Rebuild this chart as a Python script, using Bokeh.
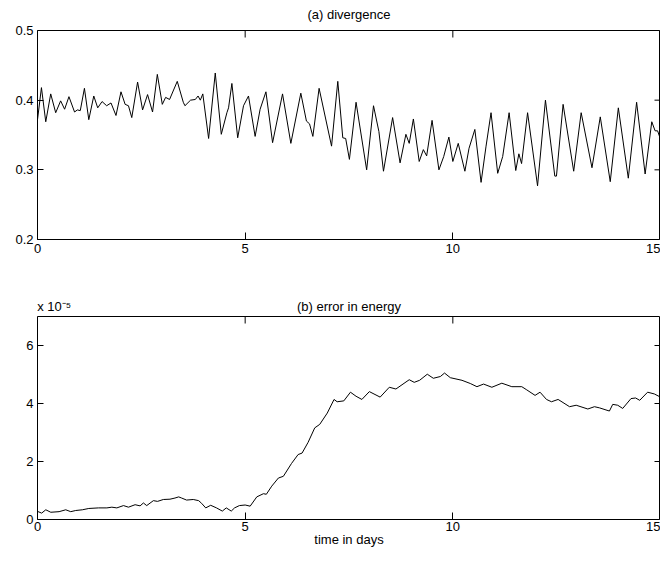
import math
from bokeh.plotting import figure
from bokeh.models import FixedTicker, LinearAxis, Range1d, Spacer
from bokeh.layouts import column, row
from bokeh.embed import file_html
from bokeh.resources import INLINE

FONT = "Liberation Sans"

# (a) divergence
div_t = [0, 0.095, 0.199, 0.318, 0.438, 0.557, 0.653, 0.757, 0.892, 0.96, 1.03, 1.13, 1.235, 1.355,
         1.45, 1.555, 1.665, 1.77, 1.89, 2.01, 2.11, 2.19, 2.27, 2.41, 2.53, 2.65, 2.77, 2.885,
         3.005, 3.085, 3.18, 3.365, 3.51, 3.55, 3.685, 3.80, 3.866, 3.92, 3.98, 4.12, 4.28, 4.425,
         4.56, 4.60, 4.68, 4.82, 4.96, 5.08, 5.24, 5.36, 5.50, 5.66, 5.90, 6.10, 6.34, 6.475, 6.55,
         6.63, 6.78, 7.08, 7.23, 7.35, 7.42, 7.51, 7.67, 7.925, 8.09, 8.22, 8.33, 8.55, 8.73, 8.87,
         8.95, 9.05, 9.19, 9.29, 9.37, 9.50, 9.665, 9.78, 9.905, 10.0, 10.13, 10.29, 10.39, 10.53,
         10.68, 10.80, 10.92, 11.08, 11.20, 11.355, 11.515, 11.59, 11.655, 11.80, 12.04, 12.23,
         12.455, 12.495, 12.655, 12.91, 13.09, 13.35, 13.55, 13.79, 13.985, 14.225, 14.425, 14.63,
         14.79, 14.87, 14.93, 15.0]
div_v = [0.372, 0.418, 0.369, 0.409, 0.382, 0.399, 0.387, 0.405, 0.383, 0.386, 0.385, 0.417, 0.372,
         0.406, 0.389, 0.398, 0.392, 0.396, 0.378, 0.412, 0.394, 0.392, 0.375, 0.426, 0.386, 0.408,
         0.383, 0.437, 0.394, 0.404, 0.401, 0.427, 0.397, 0.392, 0.400, 0.401, 0.406, 0.400, 0.409,
         0.345, 0.439, 0.351, 0.382, 0.389, 0.424, 0.346, 0.392, 0.406, 0.348, 0.387, 0.412, 0.339,
         0.409, 0.338, 0.410, 0.370, 0.366, 0.348, 0.417, 0.334, 0.427, 0.346, 0.345, 0.315, 0.397,
         0.300, 0.392, 0.355, 0.298, 0.375, 0.310, 0.351, 0.338, 0.373, 0.312, 0.329, 0.320, 0.371,
         0.300, 0.319, 0.347, 0.312, 0.338, 0.298, 0.331, 0.358, 0.282, 0.334, 0.382, 0.295, 0.319,
         0.382, 0.299, 0.323, 0.309, 0.382, 0.277, 0.400, 0.291, 0.291, 0.394, 0.298, 0.382, 0.303,
         0.376, 0.283, 0.389, 0.288, 0.397, 0.294, 0.369, 0.356, 0.356, 0.344]

# (b) error in energy, in units of 1e-5
en_t = [0, 0.10, 0.20, 0.32, 0.52, 0.68, 0.80, 0.92, 1.08, 1.235, 1.47, 1.67, 1.79, 1.91, 2.07, 2.19,
        2.35, 2.47, 2.55, 2.63, 2.79, 2.89, 3.03, 3.19, 3.31, 3.40, 3.47, 3.59, 3.75, 3.88, 3.95,
        4.05, 4.17, 4.31, 4.45, 4.545, 4.665, 4.745, 4.86, 5.00, 5.12, 5.28, 5.44, 5.51, 5.64, 5.80,
        5.92, 6.115, 6.275, 6.37, 6.515, 6.675, 6.795, 6.977, 7.14, 7.215, 7.375, 7.535, 7.67, 7.81,
        7.99, 8.25, 8.47, 8.63, 8.95, 9.07, 9.20, 9.385, 9.53, 9.70, 9.80, 9.94, 10.22, 10.42, 10.58,
        10.74, 10.94, 11.18, 11.42, 11.66, 11.78, 11.98, 12.10, 12.255, 12.375, 12.535, 12.81, 12.97,
        13.25, 13.41, 13.53, 13.77, 13.85, 13.97, 14.09, 14.29, 14.40, 14.50, 14.69, 14.85, 15.0]
en_v = [0.28, 0.22, 0.335, 0.25, 0.27, 0.335, 0.27, 0.31, 0.335, 0.38, 0.40, 0.40, 0.425, 0.40, 0.48,
        0.425, 0.51, 0.47, 0.57, 0.48, 0.65, 0.625, 0.69, 0.70, 0.74, 0.78, 0.74, 0.67, 0.69, 0.65,
        0.56, 0.40, 0.49, 0.40, 0.29, 0.40, 0.29, 0.40, 0.48, 0.50, 0.46, 0.78, 0.89, 0.87, 1.15,
        1.43, 1.49, 1.93, 2.24, 2.29, 2.66, 3.16, 3.28, 3.67, 4.14, 4.06, 4.09, 4.39, 4.25, 4.14,
        4.41, 4.22, 4.56, 4.50, 4.82, 4.73, 4.80, 5.01, 4.87, 4.93, 5.05, 4.89, 4.80, 4.69, 4.58,
        4.67, 4.56, 4.70, 4.58, 4.58, 4.47, 4.28, 4.39, 4.14, 4.06, 4.14, 3.89, 3.94, 3.81, 3.89,
        3.85, 3.74, 3.97, 3.94, 3.83, 4.17, 4.19, 4.11, 4.39, 4.33, 4.22]

x_ticks = [0, 5, 10, 15]
div_ticks = [0.2, 0.3, 0.4, 0.5]
en_ticks = [0, 2, 4, 6]
x_lim = (0, 15)
div_lim = (0.2, 0.5)
en_lim = (0, 7)


def style(p, yticks, ylim):
    p.grid.visible = False
    p.outline_line_color = "black"
    p.outline_line_width = 1
    for ax in p.xaxis:
        ax.ticker = FixedTicker(ticks=x_ticks)
        ax.major_tick_in = 7
    for ax in p.yaxis:
        ax.ticker = FixedTicker(ticks=yticks)
        ax.major_tick_in = 6
    for ax in p.xaxis + p.yaxis:
        ax.major_tick_out = 0
        ax.minor_tick_in = 0
        ax.minor_tick_out = 0
        ax.axis_line_color = None
        ax.major_tick_line_color = "black"
        ax.major_label_text_font = FONT
        ax.major_label_text_font_size = "13px"
        ax.major_label_text_color = "black"
        ax.major_label_standoff = 4
    # mirrored inward ticks on the top and right edges of the box
    p.ray(x=x_ticks, y=[ylim[1]] * len(x_ticks), length=7, length_units="screen",
          angle=-math.pi / 2, line_color="black", line_width=1)
    p.ray(x=[x_lim[1]] * len(yticks), y=yticks, length=6, length_units="screen",
          angle=math.pi, line_color="black", line_width=1)


def header(p, labels, standoff):
    # texts written above the box (panel title, scale factor)
    ax = LinearAxis(ticker=FixedTicker(ticks=list(labels.keys())),
                    major_label_overrides=labels,
                    major_tick_in=0, major_tick_out=0, minor_tick_in=0, minor_tick_out=0,
                    axis_line_color=None, major_label_text_font=FONT,
                    major_label_text_font_size="13px", major_label_text_color="black",
                    major_label_standoff=standoff)
    p.add_layout(ax, "above")


p1 = figure(width=648, height=252, x_range=Range1d(*x_lim), y_range=Range1d(*div_lim),
            toolbar_location=None, output_backend="svg", min_border=0)
p1.line(div_t, div_v, line_color="black", line_width=1)
style(p1, div_ticks, div_lim)
header(p1, {7.5: "(a) divergence"}, 9)

p2 = figure(width=648, height=254, x_range=Range1d(*x_lim), y_range=Range1d(*en_lim),
            toolbar_location=None, output_backend="svg", min_border=0)
p2.line(en_t, en_v, line_color="black", line_width=1)
style(p2, en_ticks, en_lim)
xb = p2.below[0]
xb.axis_label = "time in days"
xb.axis_label_text_font = FONT
xb.axis_label_text_font_style = "normal"
xb.axis_label_text_font_size = "13px"
xb.axis_label_text_color = "black"
xb.axis_label_standoff = -2
xb.major_label_standoff = 2
header(p2, {0.4: "x 10\u207b\u2075", 7.5: "(b) error in energy"}, 3)

layout = row(Spacer(width=12),
             column(Spacer(height=3), p1, Spacer(height=40), p2, spacing=0),
             spacing=0)
open("out.html", "w").write(file_html(layout, INLINE))
